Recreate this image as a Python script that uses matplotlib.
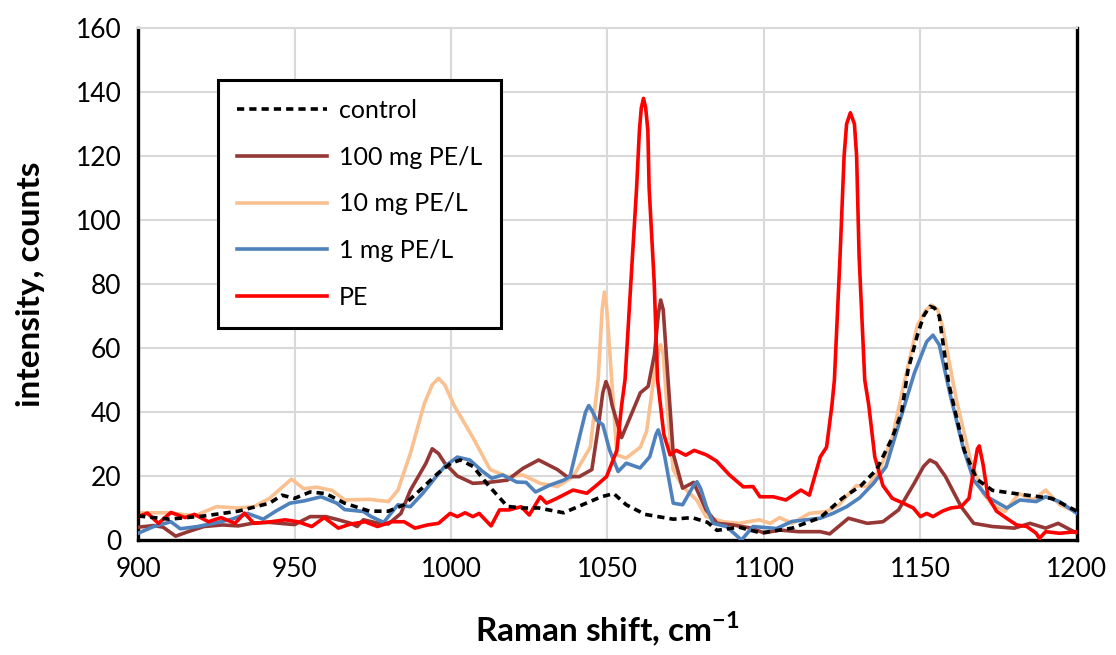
import numpy as np
import matplotlib
matplotlib.use("Agg")
import matplotlib.pyplot as plt

plt.rcParams['font.family'] = ['Lato', 'DejaVu Sans']
plt.rcParams['mathtext.fontset'] = 'custom'
plt.rcParams['mathtext.rm'] = 'Lato'
plt.rcParams['mathtext.bf'] = 'Lato:bold'

# --- data (Raman shift cm-1, counts) ---
ctrl_x = [900, 910, 921, 932, 942, 946, 950, 955, 960, 966, 974, 980, 985, 990, 996, 1000, 1003,
          1007, 1012, 1018, 1023, 1028, 1036, 1042, 1048, 1052, 1056, 1062, 1071, 1077, 1082, 1085,
          1092, 1099, 1109, 1118, 1125, 1131, 1136, 1141, 1144, 1146, 1149, 1151, 1153, 1154.5,
          1156, 1159, 1164, 1168, 1173, 1184, 1192, 1200]
ctrl_y = [7.5, 6.5, 7.5, 9, 11.5, 14, 13, 15, 14.5, 11.5, 9, 9, 11, 15.5, 21, 24, 25,
          23, 17, 10.5, 10, 10, 8.5, 11, 13.5, 14.5, 11, 8, 6.5, 7, 5.5, 3,
          4, 2.2, 3.7, 7, 13, 17, 22, 32, 40, 53, 64, 70, 73, 72.5,
          70, 49, 28, 19, 15.5, 14, 13, 9]

mg100_x = [900, 905, 908, 912, 916, 921, 927, 932, 937, 942, 950, 955, 960, 964, 968, 970, 972,
           977, 980, 984, 987, 992, 994, 996, 998, 1002, 1007, 1012, 1018, 1023, 1028, 1034, 1037,
           1041, 1045, 1047, 1048.5, 1049.5, 1050.5, 1051.5, 1054.5, 1057.5, 1060.5, 1063, 1065,
           1066.3, 1067, 1067.8, 1069, 1071, 1074, 1077.5, 1081.5, 1085, 1090, 1096, 1100, 1105,
           1111, 1118, 1121, 1127, 1133, 1138, 1143, 1148, 1151, 1153, 1155, 1158, 1163, 1167,
           1173, 1180, 1185, 1190, 1194, 1200]
mg100_y = [4, 4.5, 4, 1.2, 2.6, 4.2, 4.7, 4.4, 5.3, 5.5, 4.8, 7.3, 7.3, 6.3, 5.2, 4.2, 6.3,
           5.2, 5, 8.3, 15.5, 24, 28.5, 27, 24, 20, 17.7, 18, 18.7, 22.4, 25, 22, 19.8,
           19.8, 22, 35, 46, 49.5, 47, 42, 32, 39, 46, 48, 58,
           71, 75, 72, 55, 27, 16.2, 18, 9.4, 5.2, 4.7, 3.7, 2.2, 3.1,
           2.6, 2.6, 1.9, 6.8, 5.2, 5.7, 9.4, 17.7, 23, 25, 24, 19.8, 10.4, 5.2,
           4.2, 3.7, 5.2, 3.7, 5.2, 2.1]

mg10_x = [900, 910, 918, 925, 932, 937, 942, 949, 953, 957, 962, 966, 974, 980, 983, 987, 991.5,
          994, 996, 998, 1001, 1007, 1012.5, 1018, 1023, 1028.5, 1034, 1039, 1044.5, 1047,
          1048.3, 1049, 1049.7, 1051, 1053, 1056, 1060.5, 1062.5, 1065, 1066.3, 1067, 1067.8,
          1069, 1071, 1074, 1078.5, 1081.5, 1087, 1092, 1098.5, 1102, 1105, 1109, 1114.5, 1120,
          1124, 1129.5, 1133, 1137, 1141, 1145, 1149, 1151.5, 1153.5, 1155.5, 1157, 1161.5,
          1166, 1170, 1173, 1177, 1181.5, 1186, 1190, 1194.5, 1200]
mg10_y = [8.5, 8.5, 7.5, 10.4, 10, 10.4, 13, 19, 16, 16.5, 15.5, 12.5, 12.7, 12, 15.5, 27, 42.7,
          48.5, 50.5, 48.5, 42, 32, 22, 19.8, 20.3, 17.7, 16.7, 19.8, 29, 50,
          72, 77.5, 73, 55, 26.6, 25.6, 29, 34, 52, 59, 61, 58,
          42, 22, 16.7, 12.5, 7.3, 5.7, 5.2, 6.3, 5.2, 7, 5.2, 8.3, 8.9,
          11, 17, 16.6, 22, 32, 50, 67, 71.5, 73.4, 72, 67, 43.7,
          25, 14.6, 11, 8.9, 14.5, 12.5, 15.6, 11, 8.8]

mg1_x = [900, 905, 910.5, 913.5, 919, 924, 930, 935, 940, 944, 948.5, 953, 958.5, 963.5, 966,
         972, 974.5, 978.5, 983, 987, 991, 995, 998, 1002, 1006, 1010, 1013, 1016.5, 1021,
         1024, 1027, 1031.5, 1036, 1038, 1041, 1043, 1044, 1045, 1046.5, 1048.5, 1050.7,
         1053.4, 1056, 1060.4, 1063.5, 1065.5, 1066.2, 1067, 1068.3, 1071, 1074, 1077.5, 1078.6,
         1079.8, 1081.6, 1083.8, 1088, 1092.8, 1096.5, 1099, 1104, 1109, 1118, 1122, 1126.4,
         1130.6, 1135, 1139, 1143.5, 1148, 1152, 1154, 1156, 1159.4, 1163.6, 1167, 1171.3,
         1177.6, 1181.8, 1187, 1190, 1194.4, 1200]
mg1_y = [2.1, 4.2, 5.7, 3.5, 4.2, 5.2, 6.5, 8.3, 6.5, 9, 11.5, 12.2, 13.5, 11.5, 9.5,
         8.9, 7.3, 5.5, 11, 10.4, 14.6, 19.5, 23, 25.9, 25, 21.5, 19.3, 20.3, 18.1,
         18, 15, 17.1, 18.7, 19.8, 32, 40, 42, 40.5, 37.5, 36, 28,
         21.4, 24, 22.5, 26, 33, 34.4, 32, 26, 11.5, 11, 17, 18.2,
         16, 10.4, 5.2, 4.2, 0, 4.2, 4, 3.6, 5.8, 6.8, 8.3, 10.4,
         13.2, 17.7, 22.9, 37.5, 52, 62, 64, 61, 45.8, 29, 18.7, 13.5,
         10, 12.5, 12, 13.5, 12, 8.3]

pe_x = [900, 903, 906.5, 910.5, 915, 918, 922.5, 926.5, 931, 934, 937, 942.5, 947, 951, 955.5,
        959.5, 964, 968, 972.5, 976.5, 981, 985, 988.5, 992.5, 996, 999.7, 1002, 1004.5, 1007,
        1009, 1012.8, 1015.5, 1018.6, 1022.4, 1025, 1028.5, 1030.5, 1033.8, 1037, 1039, 1043.4,
        1046.4, 1049.7, 1053, 1054.5, 1055.6, 1057.5, 1059.3, 1060.2, 1060.8, 1061.5, 1062.2,
        1062.9, 1063.3, 1064.9, 1066, 1068, 1070, 1072, 1075, 1077.7, 1081.6, 1084.8, 1089,
        1093.4, 1096.5, 1098.7, 1103, 1107, 1111.8, 1114.5, 1118, 1120, 1121.7, 1122.5, 1124.3,
        1125.6, 1126.4, 1127.6, 1128.9, 1129.6, 1130.4, 1132.2, 1133.5, 1135.4, 1138, 1141,
        1144.5, 1147.7, 1150, 1152, 1154, 1157, 1159.7, 1163, 1165.5, 1167, 1168.2, 1168.8,
        1170, 1171.6, 1174.3, 1177.5, 1180.7, 1184, 1187, 1188, 1190, 1194.4, 1200]
pe_y = [7.3, 8.4, 5.2, 8.6, 7, 8, 5.7, 7, 5.2, 8.4, 5.2, 5.7, 6.3, 5.7, 4.2,
        7, 3.7, 5, 5.7, 4.2, 5.7, 5.7, 3.7, 4.7, 5.2, 8.3, 7.3, 8.5, 7.3,
        8.3, 4.4, 9.4, 9.4, 10.4, 7.8, 13.5, 11.5, 13, 14.6, 15.6, 14.6,
        17, 19.8, 28, 42, 50, 81, 110, 128, 135, 138, 135,
        128, 110, 81, 50, 33, 26.6, 28, 26.5, 28, 26.6, 24.7, 20.3,
        16.6, 16.7, 13.5, 13.5, 12.5, 15.6, 14, 26, 29, 42, 50, 88.5,
        120, 130, 133.5, 130, 120, 88.5, 50, 42, 26, 17, 13,
        11.5, 10, 7.3, 8.3, 7.3, 9, 10, 10.4, 13, 21.9, 28.5, 29.4,
        23.6, 13.5, 9, 6.8, 4.7, 4.2, 2.1, 0.5, 2.6, 2.1, 2.6]

labels = ['control', '100 mg PE/L', '10 mg PE/L', '1 mg PE/L', 'PE']

fig = plt.figure(figsize=(11.16, 6.55), dpi=100)
ax = fig.add_axes([0.1237, 0.1756, 0.8413, 0.7817])

lw = 2.6
ax.plot(ctrl_x, ctrl_y, color='black', lw=lw, ls=(0, (2.0, 1.4)), label=labels[0], zorder=6)
ax.plot(mg100_x, mg100_y, color='#953735', lw=lw, label=labels[1], zorder=3)
ax.plot(mg10_x, mg10_y, color='#FAC090', lw=lw, label=labels[2], zorder=2)
ax.plot(mg1_x, mg1_y, color='#4F81BD', lw=lw, label=labels[3], zorder=4)
ax.plot(pe_x, pe_y, color='#FF0000', lw=lw, label=labels[4], zorder=5)

ax.set_xlim(900, 1200)
ax.set_ylim(0, 160)
ax.set_xticks(np.arange(900, 1201, 50))
ax.set_yticks(np.arange(0, 161, 20))
ax.grid(True, color='#D9D9D9', lw=1.5)
ax.set_axisbelow(True)
ax.tick_params(length=0, labelsize=19, pad=12)

for s in ['left', 'bottom', 'right']:
    ax.spines[s].set_linewidth(2.4)
    ax.spines[s].set_color('black')
ax.spines['top'].set_color('#D9D9D9')
ax.spines['top'].set_linewidth(1.5)

ax.set_xlabel(r'Raman shift, cm$^{\mathbf{-1}}$', fontsize=24, fontweight='bold', labelpad=20)
ax.set_ylabel('intensity, counts', fontsize=24, fontweight='bold', labelpad=22)

leg = ax.legend(loc='upper left', bbox_to_anchor=(0.085, 0.898), fontsize=18,
                handlelength=3.6, handletextpad=0.5, labelspacing=0.95,
                borderpad=0.75, borderaxespad=0, fancybox=False, framealpha=1,
                edgecolor='black')
leg.get_frame().set_linewidth(2.2)

fig.savefig('out.png', dpi=100)
